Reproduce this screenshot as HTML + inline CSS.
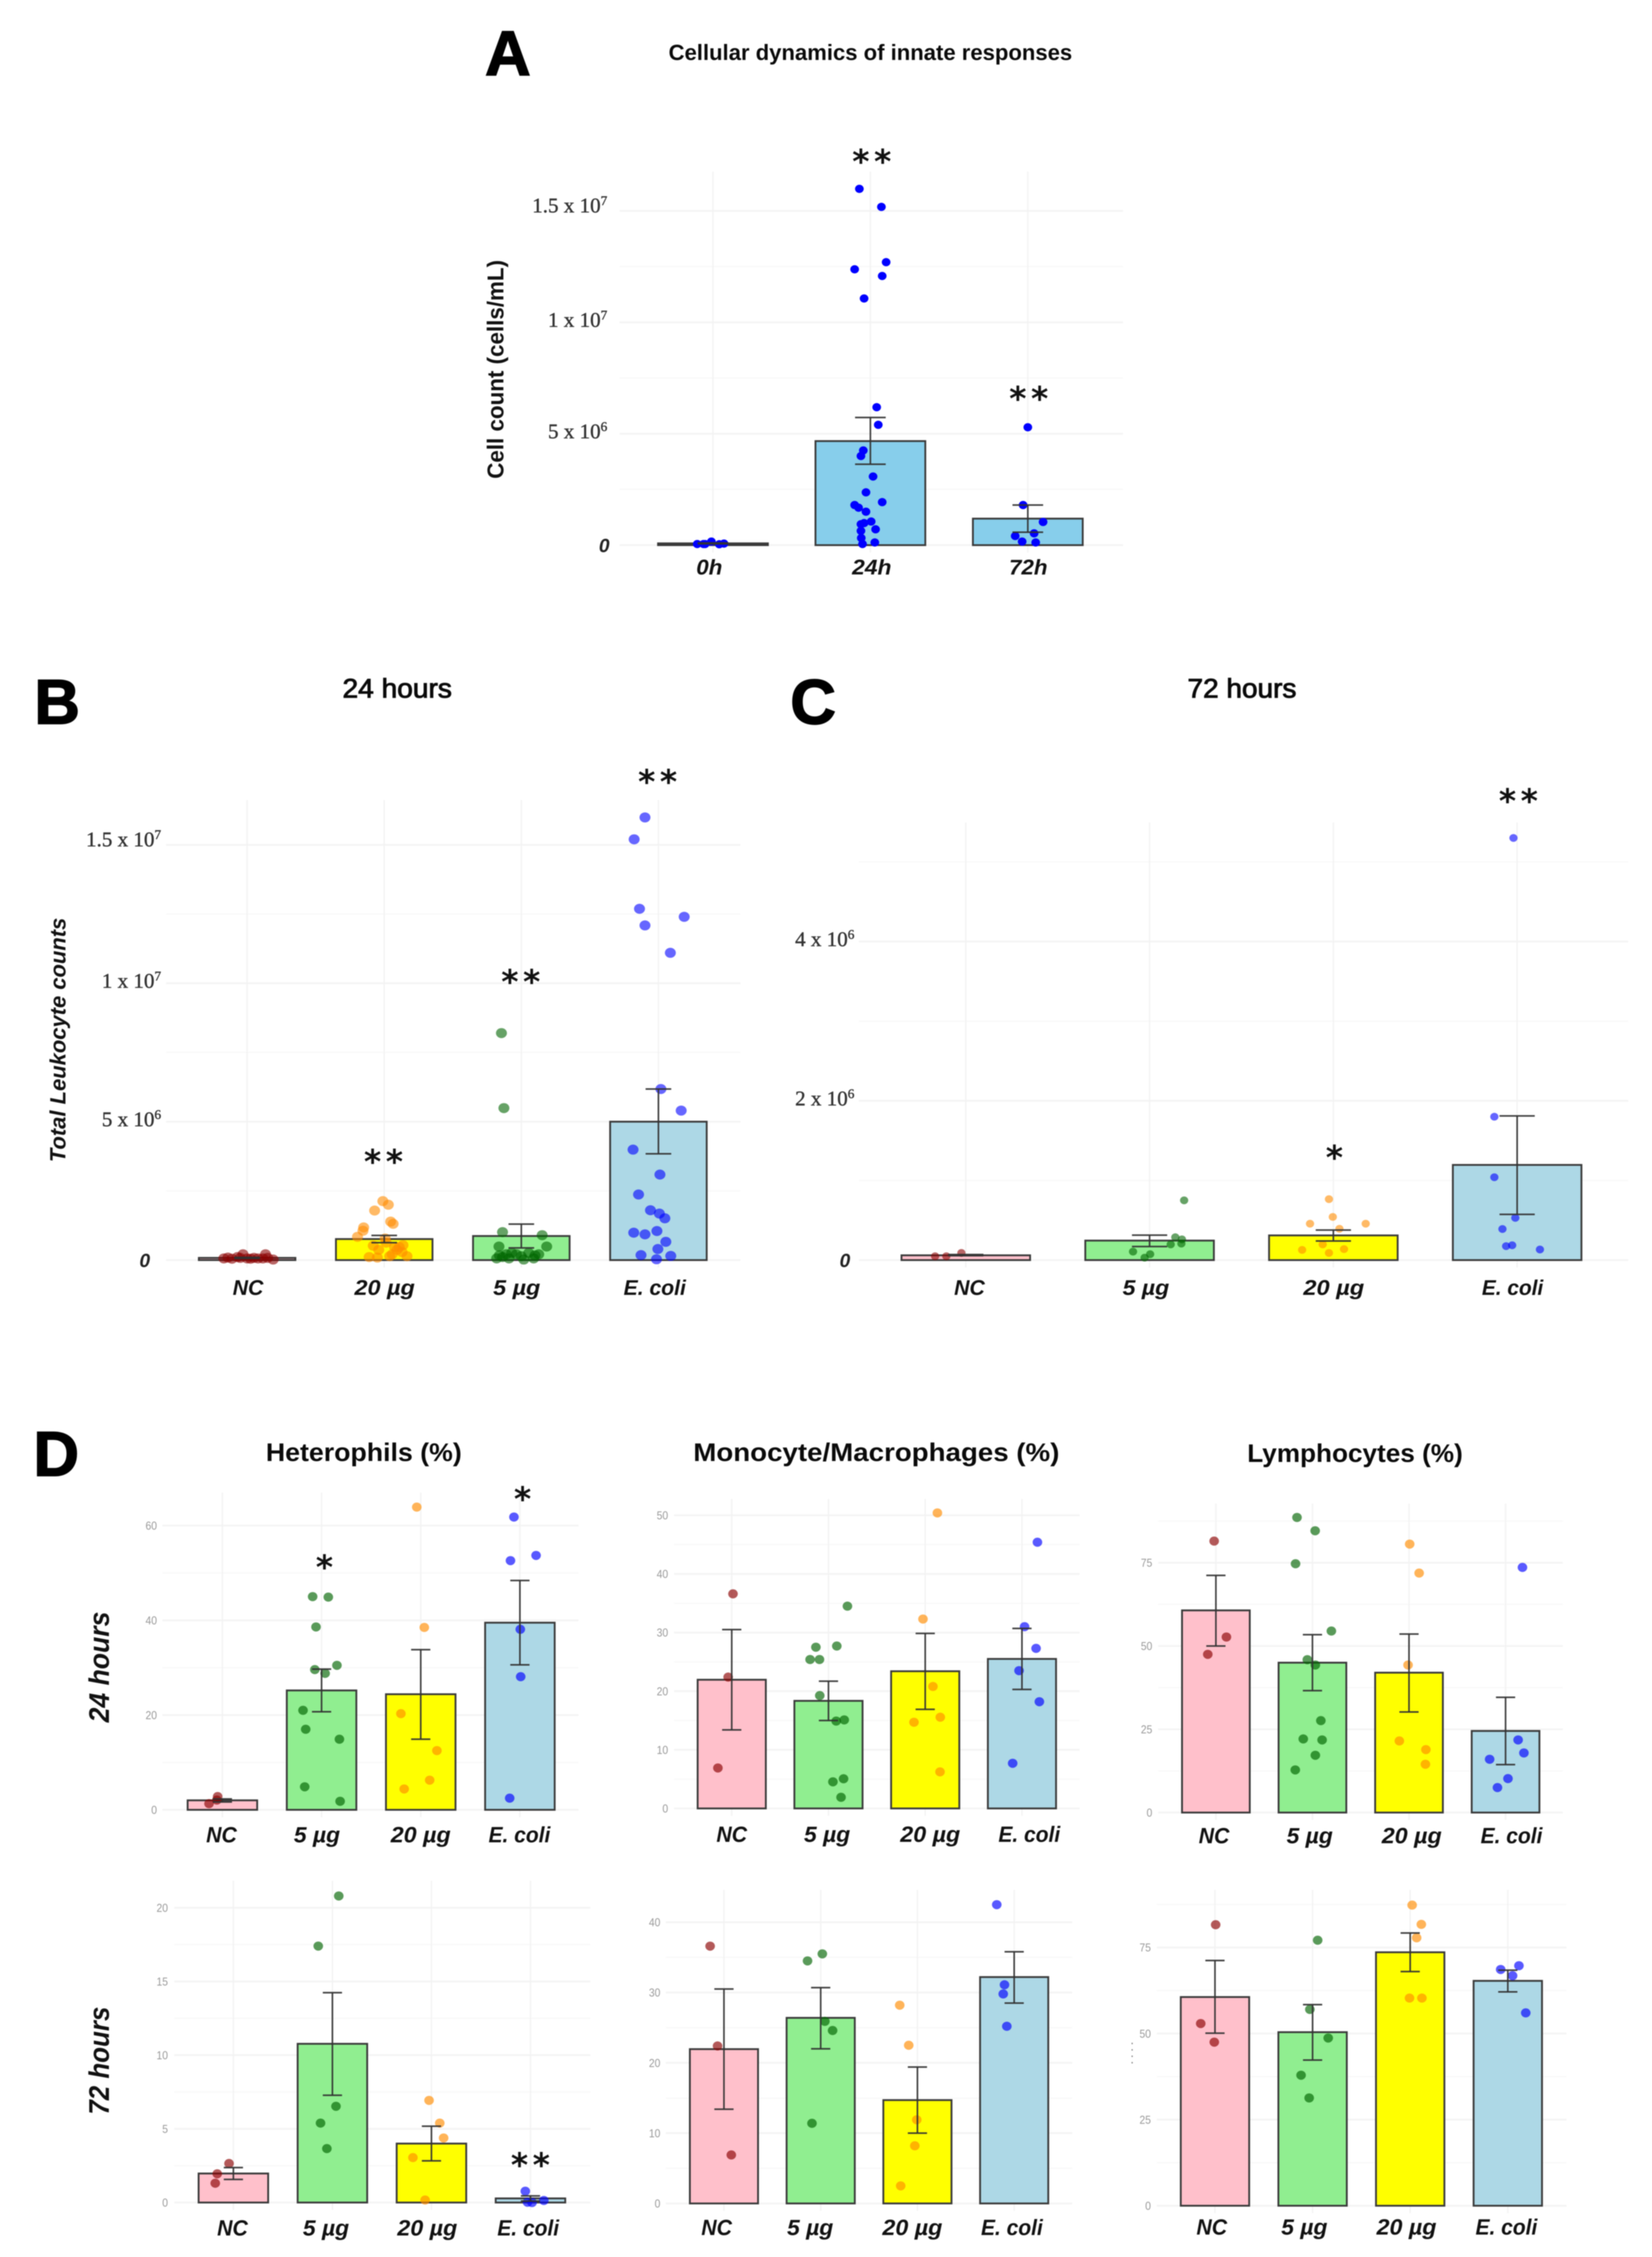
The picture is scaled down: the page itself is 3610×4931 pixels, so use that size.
<!DOCTYPE html>
<html lang="en">
<head>
<meta charset="utf-8">
<title>Cellular dynamics of innate responses</title>
<style>
html,body{margin:0;padding:0;background:#fff;width:3610px;height:4931px;overflow:hidden}
svg{display:block;filter:blur(1.1px)}
.letter{font:bold 138px "Liberation Sans",sans-serif;fill:#000;stroke:#000;stroke-width:3px}
.title{font:bold 56px "Liberation Sans",sans-serif;fill:#0a0a0a}
.star{font:bold 72px "DejaVu Sans",sans-serif;fill:#111;text-anchor:middle;letter-spacing:10px}
.star1{font:bold 72px "DejaVu Sans",sans-serif;fill:#111;text-anchor:middle}
</style>
</head>
<body>
<svg id="figure" xmlns="http://www.w3.org/2000/svg" width="3610" height="4931" viewBox="0 0 3610 4931">
<rect width="3610" height="4931" fill="#fff"/>

<text class="letter" x="1060" y="164">A</text>
<text class="letter" x="75" y="1581">B</text>
<text class="letter" x="1727" y="1581">C</text>
<text class="letter" x="73" y="3224">D</text>

<text class="title" x="1902" y="131" text-anchor="middle" textLength="882" lengthAdjust="spacingAndGlyphs" style="font-size:48px">Cellular dynamics of innate responses</text>
<text class="title" x="868" y="1524" text-anchor="middle" textLength="239" lengthAdjust="spacingAndGlyphs" style="font-size:58px;font-weight:normal;stroke:#0a0a0a;stroke-width:1.8px">24 hours</text>
<text class="title" x="2714" y="1524" text-anchor="middle" textLength="238" lengthAdjust="spacingAndGlyphs" style="font-size:58px;font-weight:normal;stroke:#0a0a0a;stroke-width:1.8px">72 hours</text>
<text class="title" x="795" y="3192" text-anchor="middle" textLength="428" lengthAdjust="spacingAndGlyphs">Heterophils (%)</text>
<text class="title" x="1915" y="3192" text-anchor="middle" textLength="800" lengthAdjust="spacingAndGlyphs">Monocyte/Macrophages (%)</text>
<text class="title" x="2961" y="3194" text-anchor="middle" textLength="471" lengthAdjust="spacingAndGlyphs">Lymphocytes (%)</text>

<text transform="translate(1100 807) rotate(-90)" text-anchor="middle" textLength="478" lengthAdjust="spacingAndGlyphs" style="font:bold 50px 'Liberation Sans',sans-serif;fill:#111">Cell count (cells/mL)</text>
<text transform="translate(143 2272) rotate(-90)" text-anchor="middle" textLength="534" lengthAdjust="spacingAndGlyphs" style="font:italic bold 48px 'Liberation Sans',sans-serif;fill:#111">Total Leukocyte counts</text>
<text transform="translate(238 3642) rotate(-90)" text-anchor="middle" textLength="242" lengthAdjust="spacingAndGlyphs" style="font:italic bold 62px 'Liberation Sans',sans-serif;fill:#111">24 hours</text>
<text transform="translate(238 4502) rotate(-90)" text-anchor="middle" textLength="236" lengthAdjust="spacingAndGlyphs" style="font:italic bold 62px 'Liberation Sans',sans-serif;fill:#111">72 hours</text>

<line x1="2474" y1="4463" x2="2474" y2="4514" stroke="#777" stroke-width="2.5" stroke-dasharray="3 11"/>

<g id="plots"></g>

<g>
<text class="star" x="1910" y="378">**</text>
<text class="star" x="2253" y="896">**</text>
<text class="star" x="843" y="2563">**</text>
<text class="star" x="1143" y="2170">**</text>
<text class="star" x="1442" y="1733">**</text>
<text class="star1" x="2916" y="2554">*</text>
<text class="star" x="3323" y="1775">**</text>
<text class="star1" x="709" y="3449">*</text>
<text class="star1" x="1142" y="3300">*</text>
<text class="star" x="1164" y="4755">**</text>
</g>
</svg>

<script>
/* ---------- Panel A: cell counts, values in millions of cells/mL ---------- */
const aCategories = ['0h', '24h', '72h'];
const aMeans = [0.08, 4.67, 1.19];
const aErrLow = [0.06, 3.63, 0.58];
const aErrHigh = [0.10, 5.73, 1.80];
const aTickValues = [0, 5, 10, 15];
const aTickLabels = ['0', '5 x 10^6', '1 x 10^7', '1.5 x 10^7'];
const aMinorTicks = [2.5, 7.5, 12.5];
const aPointValues = [
  [0.05, 0.05, 0.05, 0.16, 0.04, 0.07],
  [15.99, 15.18, 12.70, 12.38, 12.08, 11.07, 6.19, 5.40, 4.25, 4.00, 3.08, 2.37, 1.93, 1.80, 1.68, 1.50, 1.06, 0.99, 0.94, 0.71, 0.64, 0.32, 0.05, 0.12],
  [5.29, 1.80, 1.04, 0.53, 0.41, 0.16, 0.12]
];
const aPointJitter = [
  [-0.10, -0.06, -0.05, -0.01, 0.04, 0.07],
  [-0.07, 0.07, 0.10, -0.10, 0.075, -0.04, 0.04, 0.05, -0.045, -0.06, 0.017, -0.028, 0.075, -0.10, -0.075, -0.028, 0.005, -0.04, -0.06, 0.033, -0.06, -0.058, -0.05, 0.028],
  [0, -0.03, 0.097, 0.04, -0.08, -0.036, 0.05]
];

/* ---------- Panel B: 24 hours, millions ---------- */
const bCategories = ['NC', '20 µg', '5 µg', 'E. coli'];
const bMeans = [0.08, 0.76, 0.87, 5.0];
const bErrLow = [0.06, 0.63, 0.44, 3.84];
const bErrHigh = [0.10, 0.89, 1.30, 6.18];
const bTickValues = [0, 5, 10, 15];
const bTickLabels = ['0', '5 x 10^6', '1 x 10^7', '1.5 x 10^7'];
const bMinorTicks = [2.5, 7.5, 12.5];
const bPointValues = [
  [0.06, 0.09, 0.05, 0.11, 0.08, 0.21, 0.06, 0.05, 0.08, 0.06, 0.06, 0.21, 0.08, 0.02],
  [2.13, 2.0, 1.79, 1.39, 1.31, 1.18, 1.06, 0.84, 0.78, 0.63, 0.52, 0.54, 0.37, 0.37, 0.47, 0.21, 0.11, 0.09, 0.14, 0.14, 0.29, 0.47],
  [8.2, 5.49, 1.01, 0.90, 0.49, 0.49, 0.21, 0.26, 0.21, 0.17, 0.06, 0.11, 0.21, 0.14, 0.26, 0.02, 0.06, 0.17, 0.06],
  [15.99, 15.2, 12.69, 12.4, 12.09, 11.1, 6.18, 5.4, 3.99, 3.09, 2.37, 1.8, 1.68, 1.51, 0.99, 0.93, 1.05, 0.66, 0.40, 0.18, 0.15, 0.03]
];
const bPointJitter = [
  [-0.17, -0.14, -0.11, -0.07, -0.05, -0.03, 0, 0.025, 0.05, 0.08, 0.115, 0.134, 0.15, 0.19],
  [-0.01, 0.03, -0.07, 0.047, 0.065, -0.15, -0.155, -0.195, 0.007, 0.014, -0.08, 0.137, -0.04, 0.094, 0.11, 0.058, -0.11, -0.05, 0.166, 0.04, 0.13, 0.076],
  [-0.145, -0.127, -0.137, 0.152, 0.185, -0.163, 0.127, -0.07, -0.11, -0.16, -0.18, -0.137, -0.036, 0, 0.054, 0.018, 0.09, 0.10, -0.09],
  [-0.098, -0.177, -0.138, 0.188, -0.098, 0.087, 0.018, 0.166, -0.185, 0.011, -0.145, -0.058, 0.007, 0.047, -0.18, -0.098, -0.011, 0.054, -0.004, -0.127, 0.09, -0.014]
];

/* ---------- Panel C: 72 hours, millions ---------- */
const cCategories = ['NC', '5 µg', '20 µg', 'E. coli'];
const cMeans = [0.06, 0.245, 0.31, 1.195];
const cErrLow = [0.055, 0.17, 0.24, 0.574];
const cErrHigh = [0.07, 0.313, 0.377, 1.81];
const cTickValues = [0, 2, 4];
const cTickLabels = ['0', '2 x 10^6', '4 x 10^6'];
const cMinorTicks = [1, 3, 5];
const cPointValues = [
  [0.048, 0.048, 0.09],
  [0.75, 0.287, 0.26, 0.197, 0.207, 0.106, 0.074, 0.03],
  [0.765, 0.542, 0.457, 0.457, 0.393, 0.197, 0.138, 0.128, 0.09],
  [5.30, 1.80, 1.04, 0.53, 0.39, 0.175, 0.186, 0.133]
];
const cPointJitter = [
  [-0.167, -0.106, -0.024],
  [0.188, 0.14, 0.176, 0.115, 0.173, -0.09, 0.003, -0.027],
  [-0.024, -0.003, -0.127, 0.176, 0.033, -0.058, 0.058, -0.17, -0.024],
  [-0.02, -0.124, -0.124, -0.01, -0.08, -0.06, -0.027, 0.124]
];

/* ---------- Panel D: shared categories, percentages ---------- */
const dCategories = ['NC', '5 µg', '20 µg', 'E. coli'];

const het24Means = [2.0, 25.2, 24.4, 39.5];
const het24ErrLow = [1.65, 20.7, 14.9, 30.6];
const het24ErrHigh = [2.3, 29.7, 33.8, 48.4];
const het24TickValues = [0, 20, 40, 60];
const het24TickLabels = ['0', '20', '40', '60'];
const het24MinorTicks = [10, 30, 50];
const het24PointValues = [
  [2.8, 2.05, 1.3],
  [45.0, 44.9, 38.6, 30.5, 29.6, 28.8, 21.0, 17.0, 14.9, 4.86, 1.8],
  [63.9, 38.5, 20.3, 12.5, 6.26, 4.4],
  [61.8, 53.7, 52.6, 38.1, 28.1, 2.46]
];
const het24PointJitter = [
  [-0.048, -0.056, -0.135],
  [-0.09, 0.068, -0.056, 0.155, -0.068, 0.036, -0.187, -0.16, 0.18, -0.17, 0.187],
  [-0.04, 0.036, -0.2, 0.163, 0.09, -0.167],
  [-0.06, 0.163, -0.095, 0.004, 0.008, -0.103]
];

const mono24Means = [21.95, 18.35, 23.4, 25.5];
const mono24ErrLow = [13.4, 15.0, 16.9, 20.3];
const mono24ErrHigh = [30.5, 21.7, 29.85, 30.7];
const mono24TickValues = [0, 10, 20, 30, 40, 50];
const mono24TickLabels = ['0', '10', '20', '30', '40', '50'];
const mono24MinorTicks = [5, 15, 25, 35, 45];
const mono24PointValues = [
  [36.6, 22.4, 6.9],
  [34.5, 27.5, 27.7, 25.4, 25.4, 19.25, 14.9, 15.1, 5.06, 4.54, 1.9],
  [50.4, 32.3, 20.8, 15.56, 14.7, 6.24],
  [45.4, 31.0, 27.3, 23.5, 18.2, 7.7]
];
const mono24PointJitter = [
  [0.013, -0.037, -0.143],
  [0.196, -0.13, 0.086, -0.19, -0.093, -0.09, 0.08, 0.163, 0.156, 0.046, 0.13],
  [0.126, -0.023, 0.08, 0.156, -0.116, 0.153],
  [0.16, 0.027, 0.146, -0.03, 0.18, -0.096]
];

const lymph24Means = [60.7, 45.0, 42.0, 24.5];
const lymph24ErrLow = [50.0, 36.6, 30.2, 14.4];
const lymph24ErrHigh = [71.2, 53.4, 53.6, 34.6];
const lymph24TickValues = [0, 25, 50, 75];
const lymph24TickLabels = ['0', '25', '50', '75'];
const lymph24MinorTicks = [12.5, 37.5, 62.5, 87.5];
const lymph24PointValues = [
  [81.5, 52.7, 47.5],
  [88.6, 84.6, 74.7, 54.5, 45.9, 44.3, 27.6, 22.1, 21.8, 17.2, 12.8],
  [80.6, 71.9, 44.3, 21.5, 18.9, 14.5],
  [73.6, 21.8, 17.9, 16.0, 10.2, 7.5]
];
const lymph24PointJitter = [
  [-0.018, 0.109, -0.084],
  [-0.16, 0.028, -0.175, 0.196, -0.053, 0.03, 0.087, -0.095, 0.10, 0.03, -0.178],
  [0.007, 0.105, -0.01, -0.1, 0.175, 0.17],
  [0.175, 0.13, 0.19, -0.165, 0.025, -0.084]
];

const het72Means = [1.97, 10.77, 4.0, 0.28];
const het72ErrLow = [1.57, 7.28, 2.83, 0.10];
const het72ErrHigh = [2.37, 14.24, 5.18, 0.45];
const het72TickValues = [0, 5, 10, 15, 20];
const het72TickLabels = ['0', '5', '10', '15', '20'];
const het72MinorTicks = [2.5, 7.5, 12.5, 17.5];
const het72PointValues = [
  [2.65, 1.95, 1.31],
  [20.8, 17.4, 6.53, 5.39, 3.66],
  [6.93, 5.39, 4.38, 3.05, 0.17],
  [0.77, 0.14, 0.02, 0.0]
];
const het72PointJitter = [
  [-0.044, -0.163, -0.183],
  [0.064, -0.143, 0.036, -0.12, -0.056],
  [-0.024, 0.084, 0.123, -0.187, -0.064],
  [-0.052, 0.135, -0.03, 0.016]
];

const mono72Means = [21.95, 26.4, 14.7, 32.2];
const mono72ErrLow = [13.4, 22.0, 10.0, 28.5];
const mono72ErrHigh = [30.5, 30.7, 19.4, 35.8];
const mono72TickValues = [0, 10, 20, 30, 40];
const mono72TickLabels = ['0', '10', '20', '30', '40'];
const mono72MinorTicks = [5, 15, 25, 35];
const mono72PointValues = [
  [36.6, 22.4, 6.9],
  [35.5, 34.5, 25.9, 24.6, 11.4],
  [28.2, 22.5, 11.9, 8.2, 2.5],
  [42.5, 31.1, 29.8, 25.2]
];
const mono72PointJitter = [
  [-0.143, -0.066, 0.076],
  [0.017, -0.136, 0.043, 0.123, -0.09],
  [-0.183, -0.09, -0.007, -0.027, -0.173],
  [-0.18, -0.1, -0.113, -0.076]
];

const lymph72Means = [60.6, 50.4, 73.6, 65.3];
const lymph72ErrLow = [50.1, 42.3, 68.0, 62.1];
const lymph72ErrHigh = [71.2, 58.4, 79.2, 68.4];
const lymph72TickValues = [0, 25, 50, 75];
const lymph72TickLabels = ['0', '25', '50', '75'];
const lymph72MinorTicks = [12.5, 37.5, 62.5, 87.5];
const lymph72PointValues = [
  [81.6, 52.9, 47.5],
  [77.1, 57.0, 48.7, 37.9, 31.3],
  [87.3, 81.7, 77.8, 60.3, 60.3],
  [69.7, 68.6, 66.8, 56.0]
];
const lymph72PointJitter = [
  [0.007, -0.146, -0.007],
  [0.052, -0.028, 0.16, -0.118, -0.035],
  [0.02, 0.114, 0.066, -0.007, 0.12],
  [0.114, -0.073, 0.049, 0.184]
];

/* ---------- Palettes ---------- */
const PINK = '#ffc0cb', GREEN = '#90ee90', YELLOW = '#ffff00', LBLUE = '#add8e6', SKY = '#87ceeb';
const D_RED = '#8b0000', D_GREEN = '#006400', ORANGE = '#ff8c00', BLUE = '#0000ff';

const NS = 'http://www.w3.org/2000/svg';
function svgEl(tag, attrs, parent) {
  const el = document.createElementNS(NS, tag);
  for (const k in attrs) el.setAttribute(k, attrs[k]);
  parent.appendChild(el);
  return el;
}

function drawPanel(p) {
  const root = document.getElementById('plots');
  const g = svgEl('g', {}, root);
  
  
  const xPos = i => p.firstX + i * p.stepX;
  const yPos = v => p.zeroY - v * p.unit;

  p.minor.forEach(v => {
    const gl = svgEl('line', {x1: p.left, x2: p.right, y1: yPos(v), y2: yPos(v), stroke: '#f9f9f9', 'stroke-width': 3}, g);
    
    
  });
  p.ticks.forEach(v => {
    const gl = svgEl('line', {x1: p.left, x2: p.right, y1: yPos(v), y2: yPos(v), stroke: '#f4f4f4', 'stroke-width': 4}, g);
    
    
  });
  p.categories.forEach((c, i) => {
    const gl = svgEl('line', {x1: xPos(i), x2: xPos(i), y1: p.top, y2: p.zeroY + 16, stroke: '#f3f3f3', 'stroke-width': 3}, g);
    
    
  });

  /* tick labels */
  p.tickLabels.forEach((lab, i) => {
    const y = yPos(p.ticks[i]);
    const t = svgEl('text', {}, g);
    
    
    t.setAttribute('text-anchor', 'end');
    if (p.sci) {
      if (lab.indexOf('^') < 0) {
        t.setAttribute('x', p.zeroLabelRight);
        t.setAttribute('y', y + 15);
        t.setAttribute('style', 'font:italic bold 42px "Liberation Sans",sans-serif;fill:#222');
        t.textContent = lab;
      } else {
        const parts = lab.split('^');
        t.setAttribute('x', p.tickRight);
        t.setAttribute('y', y + (lab.indexOf('1.5') === 0 ? 3 : 10));
        t.setAttribute('style', 'font:46px "Liberation Serif",serif;fill:#333;stroke:#333;stroke-width:.8px');
        const a = svgEl('tspan', {}, t);
        a.textContent = parts[0];
        const b = svgEl('tspan', {dy: -16, style: 'font-size:29px'}, t);
        b.textContent = parts[1];
      }
    } else {
      t.setAttribute('x', p.tickRight);
      t.setAttribute('y', y + 9);
      t.setAttribute('textLength', lab.length * 12.5);
      t.setAttribute('lengthAdjust', 'spacingAndGlyphs');
      t.setAttribute('style', 'font:25px "Liberation Sans",sans-serif;fill:#9a9a9a');
      t.textContent = lab;
    }
  });

  /* bars */
  p.categories.forEach((c, i) => {
    const h = p.means[i] * p.unit;
    const bar = svgEl('rect', {x: xPos(i) - p.barW / 2, y: yPos(p.means[i]), width: p.barW, height: h, fill: p.fills[i], stroke: '#3a3a3a', 'stroke-width': 4}, g);
    
    
  });

  /* points */
  p.categories.forEach((c, i) => {
    p.pointValues[i].forEach((v, k) => {
      const dot = svgEl('ellipse', {cx: xPos(i) + p.pointJitter[i][k] * p.stepX, cy: yPos(v), rx: p.rx, ry: p.ry, fill: p.dotFills[i], 'fill-opacity': p.dotOpacity}, g);
      
      
    });
  });

  /* error bars */
  p.categories.forEach((c, i) => {
    const x = xPos(i), hi = yPos(p.errHigh[i]), lo = yPos(p.errLow[i]);
    const stem = svgEl('line', {x1: x, x2: x, y1: hi, y2: lo, stroke: '#333', 'stroke-width': 3.5, 'stroke-opacity': .95}, g);
    
    
    const capHi = svgEl('line', {x1: x - p.capW / 2, x2: x + p.capW / 2, y1: hi, y2: hi, stroke: '#333', 'stroke-width': 3.5, 'stroke-opacity': .95}, g);
    
    
    const capLo = svgEl('line', {x1: x - p.capW / 2, x2: x + p.capW / 2, y1: lo, y2: lo, stroke: '#333', 'stroke-width': 3.5, 'stroke-opacity': .95}, g);
    
    
  });

  /* category labels */
  p.categories.forEach((c, i) => {
    const t = svgEl('text', {x: xPos(i) + p.labelShift[i], y: p.labelY, 'text-anchor': 'middle', textLength: p.labelW[i], lengthAdjust: 'spacingAndGlyphs', style: 'font:italic bold ' + p.labelSize + 'px "Liberation Sans",sans-serif;fill:#111'}, g);
    
    
    t.textContent = c;
  });
}

const fills4 = [PINK, GREEN, YELLOW, LBLUE];
const dots4 = [D_RED, D_GREEN, ORANGE, BLUE];
const dLabelW = [67, 101, 131, 135];

drawPanel({id: 'a', categories: aCategories, means: aMeans, errLow: aErrLow, errHigh: aErrHigh, ticks: aTickValues, tickLabels: aTickLabels, minor: aMinorTicks, pointValues: aPointValues, pointJitter: aPointJitter,
  zeroY: 1191, unit: 48.68, firstX: 1558, stepX: 344, left: 1354, right: 2454, top: 375, barW: 240, capW: 67, rx: 9.5, ry: 9, dotOpacity: 1,
  fills: [SKY, SKY, SKY], dotFills: [BLUE, BLUE, BLUE], sci: true, tickRight: 1327, zeroLabelRight: 1332,
  labelShift: [-8, 3, 1], labelW: [57, 86, 84], labelY: 1255, labelSize: 46});

drawPanel({id: 'b', categories: bCategories, means: bMeans, errLow: bErrLow, errHigh: bErrHigh, ticks: bTickValues, tickLabels: bTickLabels, minor: bMinorTicks, pointValues: bPointValues, pointJitter: bPointJitter,
  zeroY: 2753, unit: 60.48, firstX: 540, stepX: 299.6, left: 363, right: 1618, top: 1748, barW: 211, capW: 56, rx: 12, ry: 11, dotOpacity: .6,
  fills: [PINK, YELLOW, GREEN, LBLUE], dotFills: [D_RED, ORANGE, D_GREEN, BLUE], sci: true, tickRight: 352, zeroLabelRight: 328,
  labelShift: [2, 1, -10, -8], labelW: [67, 132, 103, 136], labelY: 2829, labelSize: 46});

drawPanel({id: 'c', categories: cCategories, means: cMeans, errLow: cErrLow, errHigh: cErrHigh, ticks: cTickValues, tickLabels: cTickLabels, minor: cMinorTicks, pointValues: cPointValues, pointJitter: cPointJitter,
  zeroY: 2753, unit: 174.0, firstX: 2110.5, stepX: 401.6, left: 1877, right: 3558, top: 1797, barW: 281, capW: 77, rx: 9, ry: 8.5, dotOpacity: .6,
  fills: fills4, dotFills: dots4, sci: true, tickRight: 1867, zeroLabelRight: 1858,
  labelShift: [8, -8, 1, -10], labelW: [67, 102, 133, 134], labelY: 2829, labelSize: 46});

drawPanel({id: 'heterophils-24h', categories: dCategories, means: het24Means, errLow: het24ErrLow, errHigh: het24ErrHigh, ticks: het24TickValues, tickLabels: het24TickLabels, minor: het24MinorTicks, pointValues: het24PointValues, pointJitter: het24PointJitter,
  zeroY: 3954, unit: 10.35, firstX: 486, stepX: 216.7, left: 355, right: 1264, top: 3261, barW: 152, capW: 42, rx: 10.5, ry: 10, dotOpacity: .65,
  fills: fills4, dotFills: dots4, sci: false, tickRight: 343,
  labelShift: [-2, -10, 0, -1], labelW: dLabelW, labelY: 4025, labelSize: 48});

drawPanel({id: 'monocytes-24h', categories: dCategories, means: mono24Means, errLow: mono24ErrLow, errHigh: mono24ErrHigh, ticks: mono24TickValues, tickLabels: mono24TickLabels, minor: mono24MinorTicks, pointValues: mono24PointValues, pointJitter: mono24PointJitter,
  zeroY: 3951, unit: 12.81, firstX: 1599, stepX: 211.4, left: 1473, right: 2359, top: 3275, barW: 149, capW: 42, rx: 10.5, ry: 10, dotOpacity: .65,
  fills: fills4, dotFills: dots4, sci: false, tickRight: 1460,
  labelShift: [0, -3, 11, 16], labelW: dLabelW, labelY: 4024, labelSize: 48});

drawPanel({id: 'lymphocytes-24h', categories: dCategories, means: lymph24Means, errLow: lymph24ErrLow, errHigh: lymph24ErrHigh, ticks: lymph24TickValues, tickLabels: lymph24TickLabels, minor: lymph24MinorTicks, pointValues: lymph24PointValues, pointJitter: lymph24PointJitter,
  zeroY: 3960, unit: 7.277, firstX: 2657, stepX: 211, left: 2531, right: 3415, top: 3285, barW: 148, capW: 42, rx: 10.5, ry: 10, dotOpacity: .65,
  fills: fills4, dotFills: dots4, sci: false, tickRight: 2518,
  labelShift: [-4, -6, 6, 13], labelW: dLabelW, labelY: 4027, labelSize: 48});

drawPanel({id: 'heterophils-72h', categories: dCategories, means: het72Means, errLow: het72ErrLow, errHigh: het72ErrHigh, ticks: het72TickValues, tickLabels: het72TickLabels, minor: het72MinorTicks, pointValues: het72PointValues, pointJitter: het72PointJitter,
  zeroY: 4812, unit: 32.2, firstX: 510, stepX: 216.4, left: 381, right: 1290, top: 4109, barW: 152, capW: 42, rx: 10.5, ry: 10, dotOpacity: .65,
  fills: fills4, dotFills: dots4, sci: false, tickRight: 367,
  labelShift: [-2, -14, -9, -5], labelW: dLabelW, labelY: 4884, labelSize: 48});

drawPanel({id: 'monocytes-72h', categories: dCategories, means: mono72Means, errLow: mono72ErrLow, errHigh: mono72ErrHigh, ticks: mono72TickValues, tickLabels: mono72TickLabels, minor: mono72MinorTicks, pointValues: mono72PointValues, pointJitter: mono72PointJitter,
  zeroY: 4814, unit: 15.36, firstX: 1582, stepX: 211.4, left: 1455, right: 2343, top: 4129, barW: 149, capW: 42, rx: 10.5, ry: 10, dotOpacity: .65,
  fills: fills4, dotFills: dots4, sci: false, tickRight: 1443,
  labelShift: [-16, -23, -11, -5], labelW: dLabelW, labelY: 4883, labelSize: 48});

drawPanel({id: 'lymphocytes-72h', categories: dCategories, means: lymph72Means, errLow: lymph72ErrLow, errHigh: lymph72ErrHigh, ticks: lymph72TickValues, tickLabels: lymph72TickLabels, minor: lymph72MinorTicks, pointValues: lymph72PointValues, pointJitter: lymph72PointJitter,
  zeroY: 4819, unit: 7.524, firstX: 2655, stepX: 213.3, left: 2528, right: 3423, top: 4129, barW: 149.5, capW: 42, rx: 10.5, ry: 10, dotOpacity: .65,
  fills: fills4, dotFills: dots4, sci: false, tickRight: 2515,
  labelShift: [-7, -18, -8, -3], labelW: dLabelW, labelY: 4882, labelSize: 48});
</script>
</body>
</html>
